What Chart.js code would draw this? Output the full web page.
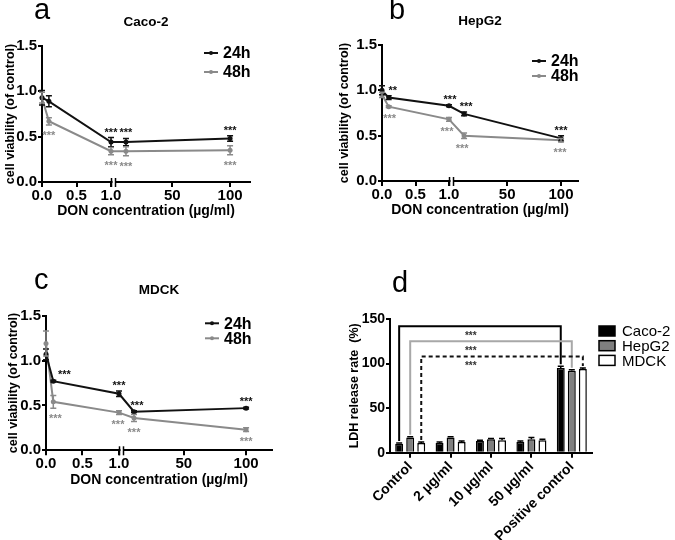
<!DOCTYPE html>
<html>
<head>
<meta charset="utf-8">
<script src="https://cdn.jsdelivr.net/npm/chart.js@4.4.0/dist/chart.umd.min.js"></script>
<style>
  body { margin:0; background:#fff; width:675px; height:540px; position:relative; overflow:hidden; font-family:"Liberation Sans", Arial, sans-serif; }
  canvas { position:absolute; }
  .letter { position:absolute; font-size:29px; line-height:1; color:#000; z-index:2; }
</style>
</head>
<body>
<canvas id="chartA" width="330" height="230" style="left:0;top:0"></canvas>
<canvas id="chartB" width="345" height="230" style="left:330px;top:0"></canvas>
<canvas id="chartC" width="330" height="230" style="left:0;top:270px"></canvas>
<canvas id="chartD" width="335" height="270" style="left:340px;top:270px"></canvas>
<div class="letter" style="left:34px;top:-5px">a</div>
<div class="letter" style="left:389px;top:-5px">b</div>
<div class="letter" style="left:34px;top:265px">c</div>
<div class="letter" style="left:392px;top:268px">d</div>
<script>
const FONT = '"Liberation Sans", Arial, sans-serif';
Chart.defaults.font.family = FONT;
Chart.defaults.color = '#000';

// DON concentrations (µg/ml), panels a-c
const concentrations = [0, 0.1, 1, 10, 100];
const xTickValues = [0, 0.5, 1, 50, 100];
const xTickLabels = ['0.0', '0.5', '1.0', '50', '100'];
const yTickValues = [0, 0.5, 1.0, 1.5];

// a - Caco-2
const caco24 = [0.93, 0.89, 0.44, 0.44, 0.48];
const caco24Err = [0.08, 0.06, 0.05, 0.04, 0.03];
const caco48 = [0.93, 0.67, 0.34, 0.34, 0.35];
const caco48Err = [0.06, 0.04, 0.04, 0.05, 0.05];
const caco24Stars = ['', '', '***', '***', '***'];
const caco48Stars = ['', '***', '***', '***', '***'];

// b - HepG2
const hep24 = [1.0, 0.92, 0.83, 0.74, 0.47];
const hep24Err = [0.05, 0.02, 0.01, 0.02, 0.03];
const hep48 = [0.95, 0.82, 0.68, 0.50, 0.45];
const hep48Err = [0.03, 0.01, 0.02, 0.03, 0.02];
const hep24Stars = ['', '**', '***', '***', '***'];
const hep48Stars = ['', '***', '***', '***', '***'];

// c - MDCK
const mdck24 = [1.07, 0.77, 0.63, 0.43, 0.47];
const mdck24Err = [0.06, 0.01, 0.03, 0.01, 0.01];
const mdck48 = [1.19, 0.54, 0.42, 0.36, 0.23];
const mdck48Err = [0.14, 0.07, 0.02, 0.04, 0.02];
const mdck24Stars = ['', '***', '***', '***', '***'];
const mdck48Stars = ['', '***', '***', '***', '***'];

// d - LDH release
const ldhLabels = ['Control', '2 µg/ml', '10 µg/ml', '50 µg/ml', 'Positive control'];
const ldhCaco = [10, 11, 13, 12, 95];
const ldhCacoErr = [1, 1, 1, 1, 2];
const ldhHep = [17, 17, 15, 15, 92];
const ldhHepErr = [1, 1, 1, 2, 1];
const ldhMdck = [11, 12, 14, 14, 94];
const ldhMdckErr = [1, 1, 2, 1, 1];
const bracketLevels = [142, 125, 108];
const bracketStars = ['***', '***', '***'];

// star nudges (px), layout only
const nudgeA24 = [0, 0, 0, 0, 0], nudgeA48 = [0, 0, 0, 0, 0];
const nudgeB24 = [0, 4, 1, 2, 0], nudgeB48 = [0, 1, -2, -2, -1];
const nudgeC24 = [0, 11, 0, 3, 0], nudgeC48 = [0, 2, -1, 0, 0];

function bold(size) { return { family: FONT, weight: 'bold', size: size }; }

// draws SD bars for any dataset that has an errors array
const errorBars = {
  id: 'errorBars',
  afterDatasetsDraw(chart) {
    const ctx = chart.ctx;
    chart.data.datasets.forEach(function (ds, di) {
      if (!ds.errors) return;
      const meta = chart.getDatasetMeta(di);
      const ys = chart.scales[meta.yAxisID];
      ctx.save();
      ctx.strokeStyle = ds.errorColor || ds.borderColor;
      ctx.lineWidth = 1.5;
      meta.data.forEach(function (el, i) {
        const raw = ds.data[i];
        const v = typeof raw === 'object' ? raw.y : raw;
        const e = ds.errors[i];
        const top = ys.getPixelForValue(v + e);
        const bot = ds.upOnly ? ys.getPixelForValue(v) : ys.getPixelForValue(v - e);
        ctx.beginPath();
        ctx.moveTo(el.x, top); ctx.lineTo(el.x, bot);
        ctx.moveTo(el.x - 3, top); ctx.lineTo(el.x + 3, top);
        if (!ds.upOnly) { ctx.moveTo(el.x - 3, bot); ctx.lineTo(el.x + 3, bot); }
        ctx.stroke();
      });
      ctx.restore();
    });
  }
};

// significance asterisks above (24h) or below (48h) the points
const starMarks = {
  id: 'starMarks',
  afterDatasetsDraw(chart) {
    const ctx = chart.ctx;
    chart.data.datasets.forEach(function (ds, di) {
      if (!ds.stars) return;
      const meta = chart.getDatasetMeta(di);
      const ys = chart.scales[meta.yAxisID];
      ctx.save();
      ctx.font = 'bold 11px ' + FONT;
      ctx.fillStyle = ds.borderColor;
      ctx.textAlign = 'center';
      ctx.textBaseline = 'alphabetic';
      meta.data.forEach(function (el, i) {
        if (!ds.stars[i]) return;
        const v = ds.data[i].y, e = ds.errors[i];
        let cy = ds.starsBelow ? ys.getPixelForValue(v - e) + 8 : ys.getPixelForValue(v + e) - 8;
        ctx.fillText(ds.stars[i], el.x + (ds.nudge ? ds.nudge[i] : 0), cy + 6);
      });
      ctx.restore();
    });
  }
};

const axisBreak = {
  id: 'axisBreak',
  afterDraw(chart, args, opts) {
    if (opts.at === undefined) return;
    const ctx = chart.ctx;
    const x0 = chart.scales.x.getPixelForValue(opts.at);
    const y = chart.chartArea.bottom;
    ctx.save();
    ctx.fillStyle = '#fff';
    ctx.fillRect(x0 + 1.5, y - 2, 2.5, 4);
    ctx.strokeStyle = '#000';
    ctx.lineWidth = 1.5;
    [x0 + 0.5, x0 + 4.5].forEach(function (x) {
      ctx.beginPath(); ctx.moveTo(x, y - 4); ctx.lineTo(x, y + 5); ctx.stroke();
    });
    ctx.restore();
  }
};

const lineLegend = {
  id: 'lineLegend',
  afterDraw(chart, args, opts) {
    if (opts.x === undefined) return;
    const ctx = chart.ctx;
    ctx.save();
    chart.data.datasets.forEach(function (ds, i) {
      const y = opts.y + i * opts.dy;
      ctx.strokeStyle = ds.borderColor; ctx.fillStyle = ds.borderColor;
      ctx.lineWidth = 2;
      ctx.beginPath(); ctx.moveTo(opts.x, y); ctx.lineTo(opts.x + 14, y); ctx.stroke();
      ctx.beginPath(); ctx.arc(opts.x + 7, y, 2, 0, Math.PI * 2); ctx.fill();
      ctx.fillStyle = '#000';
      ctx.font = 'bold 16px ' + FONT;
      ctx.textBaseline = 'middle';
      ctx.fillText(ds.label, opts.x + 19, y + 1);
    });
    ctx.restore();
  }
};

const panelTitle = {
  id: 'panelTitle',
  afterDraw(chart, args, opts) {
    if (!opts.text) return;
    const ctx = chart.ctx, ca = chart.chartArea;
    ctx.save();
    ctx.font = 'bold 13.5px ' + FONT;
    ctx.fillStyle = '#000';
    ctx.textAlign = 'center';
    ctx.textBaseline = 'middle';
    ctx.fillText(opts.text, (ca.left + ca.right) / 2, opts.y);
    ctx.restore();
  }
};

function viabilityChart(id, p, s24, s48) {
  // broken x axis: 0-1 linear, then a compressed 1-120 segment
  const toX = v => v <= 1 ? v : p.g + (v - 1) * p.k;
  function series(label, vals, errs, stars, nudge, color, below) {
    return {
      label: label,
      data: vals.map((v, i) => ({ x: toX(concentrations[i]), y: v })),
      errors: errs, stars: stars, nudge: nudge, starsBelow: below,
      borderColor: color, backgroundColor: color, borderWidth: 2,
      pointRadius: 2.5, pointBorderWidth: 0, tension: 0, clip: false
    };
  }
  return new Chart(document.getElementById(id), {
    type: 'line',
    data: {
      datasets: [
        series('24h', s24[0], s24[1], s24[2], s24[3], '#111111', false),
        series('48h', s48[0], s48[1], s48[2], s48[3], '#8a8a8a', true)
      ]
    },
    options: {
      responsive: false, animation: false, events: [],
      layout: { padding: { top: p.top, right: p.right, left: 0, bottom: 0 } },
      plugins: {
        legend: { display: false }, tooltip: { enabled: false },
        axisBreak: { at: 1 },
        lineLegend: p.legend,
        panelTitle: { text: p.title, y: p.titleY }
      },
      scales: {
        x: {
          type: 'linear', min: 0, max: p.max,
          afterBuildTicks: sc => { sc.ticks = xTickValues.map(v => ({ value: toX(v) })); },
          afterFit: sc => { sc.height = p.xH; },
          ticks: { callback: (val, i) => xTickLabels[i], font: bold(15), color: '#000', padding: 0, maxRotation: 0, autoSkip: false },
          grid: { drawOnChartArea: false, drawTicks: true, tickLength: 5, color: '#000', lineWidth: 2 },
          border: { color: '#000', width: 2 },
          title: { display: true, text: 'DON concentration (µg/ml)', font: bold(14), color: '#000', padding: { top: 0, bottom: p.xTitlePad } }
        },
        y: {
          min: 0, max: 1.5,
          afterBuildTicks: sc => { sc.ticks = yTickValues.map(v => ({ value: v })); },
          afterFit: sc => { sc.width = p.yW; },
          ticks: { callback: v => v.toFixed(1), font: bold(15), color: '#000', padding: 1 },
          grid: { drawOnChartArea: false, drawTicks: true, tickLength: 4, color: '#000', lineWidth: 2 },
          border: { color: '#000', width: 2 },
          title: { display: true, text: 'cell viability (of control)', font: bold(12.5), color: '#000', padding: { top: p.yTitlePad, bottom: 0 } }
        }
      }
    },
    plugins: [errorBars, starMarks, axisBreak, lineLegend, panelTitle]
  });
}

viabilityChart('chartA', {
  g: 1.066, k: 0.01676, max: 3.014, top: 46, right: 80, xH: 48, yW: 42,
  yTitlePad: 3.5, xTitlePad: 10.5, title: 'Caco-2', titleY: 22,
  legend: { x: 204, y: 53, dy: 19 }
}, [caco24, caco24Err, caco24Stars, nudgeA24], [caco48, caco48Err, caco48Stars, nudgeA48]);

viabilityChart('chartB', {
  g: 1.08, k: 0.01608, max: 2.925, top: 45, right: 97, xH: 49, yW: 52,
  yTitlePad: 7.5, xTitlePad: 11.5, title: 'HepG2', titleY: 21.7,
  legend: { x: 202, y: 61, dy: 15 }
}, [hep24, hep24Err, hep24Stars, nudgeB24], [hep48, hep48Err, hep48Stars, nudgeB48]);

viabilityChart('chartC', {
  g: 1.052, k: 0.01706, max: 3.096, top: 45.7, right: 58, xH: 49.7, yW: 46,
  yTitlePad: 6.5, xTitlePad: 11.5, title: 'MDCK', titleY: 20.7,
  legend: { x: 205, y: 53.3, dy: 15 }
}, [mdck24, mdck24Err, mdck24Stars, nudgeC24], [mdck48, mdck48Err, mdck48Stars, nudgeC48]);

// d: brackets from control to positive control for each cell line
const brackets = {
  id: 'brackets',
  afterDatasetsDraw(chart) {
    const ctx = chart.ctx, ys = chart.scales.y, xs = chart.scales.x;
    const colors = ['#000', '#a8a8a8', '#111'];
    const dashes = [[], [], [4, 3]];
    ctx.save();
    chart.data.datasets.forEach(function (ds, di) {
      const meta = chart.getDatasetMeta(di);
      const first = meta.data[0], last = meta.data[meta.data.length - 1];
      const yl = ys.getPixelForValue(bracketLevels[di]);
      const y0 = ys.getPixelForValue(ds.data[0] + ds.errors[0]) - 2;
      const n = ds.data.length - 1;
      const y1 = ys.getPixelForValue(ds.data[n] + ds.errors[n]) - 2;
      ctx.strokeStyle = colors[di];
      ctx.lineWidth = 2;
      ctx.setLineDash(dashes[di]);
      ctx.beginPath();
      ctx.moveTo(first.x, y0); ctx.lineTo(first.x, yl); ctx.lineTo(last.x, yl); ctx.lineTo(last.x, y1);
      ctx.stroke();
      ctx.setLineDash([]);
      ctx.font = 'bold 10px ' + FONT;
      ctx.fillStyle = '#333';
      ctx.textAlign = 'center';
      const sx = (xs.getPixelForValue(1) + xs.getPixelForValue(2)) / 2;
      ctx.fillText(bracketStars[di], sx, yl + 7 + 5.5);
    });
    ctx.restore();
  }
};

const barLegend = {
  id: 'barLegend',
  afterDraw(chart) {
    const ctx = chart.ctx;
    ctx.save();
    chart.data.datasets.forEach(function (ds, i) {
      const y = 61 + i * 14.7;
      ctx.fillStyle = ds.backgroundColor;
      ctx.fillRect(259, y - 5, 16, 10);
      ctx.strokeStyle = '#000';
      ctx.lineWidth = 1.5;
      ctx.strokeRect(259, y - 5, 16, 10);
      ctx.fillStyle = '#000';
      ctx.font = '15px ' + FONT;
      ctx.textBaseline = 'middle';
      ctx.fillText(ds.label, 282, y + 1);
    });
    ctx.restore();
  }
};

new Chart(document.getElementById('chartD'), {
  type: 'bar',
  data: {
    labels: ldhLabels,
    datasets: [
      { label: 'Caco-2', data: ldhCaco, errors: ldhCacoErr, upOnly: true, backgroundColor: '#000000', borderColor: '#000000', borderWidth: 1.5 },
      { label: 'HepG2', data: ldhHep, errors: ldhHepErr, upOnly: true, backgroundColor: '#7f7f7f', borderColor: '#000000', borderWidth: 1.5 },
      { label: 'MDCK', data: ldhMdck, errors: ldhMdckErr, upOnly: true, backgroundColor: '#ffffff', borderColor: '#000000', borderWidth: 1.5 }
    ]
  },
  options: {
    responsive: false, animation: false, events: [],
    categoryPercentage: 0.82, barPercentage: 0.72,
    layout: { padding: { top: 49, right: 83, left: 0, bottom: 0 } },
    plugins: { legend: { display: false }, tooltip: { enabled: false } },
    scales: {
      x: {
        afterFit: sc => { sc.height = 87.3; },
        ticks: { font: bold(14), color: '#000', minRotation: 45, maxRotation: 45, padding: 1, autoSkip: false },
        grid: { offset: false, drawOnChartArea: false, drawTicks: true, tickLength: 5, color: '#000', lineWidth: 2 },
        border: { color: '#000', width: 2 }
      },
      y: {
        min: 0, max: 150,
        afterFit: sc => { sc.width = 50; },
        ticks: { stepSize: 50, font: bold(14), color: '#000', padding: 1 },
        grid: { drawOnChartArea: false, drawTicks: true, tickLength: 4, color: '#000', lineWidth: 2 },
        border: { color: '#000', width: 2 },
        title: { display: true, text: 'LDH release rate  (%)', font: bold(12.5), color: '#000', padding: { top: 7.5, bottom: 0 } }
      }
    }
  },
  plugins: [errorBars, brackets, barLegend]
});
</script>
</body>
</html>
